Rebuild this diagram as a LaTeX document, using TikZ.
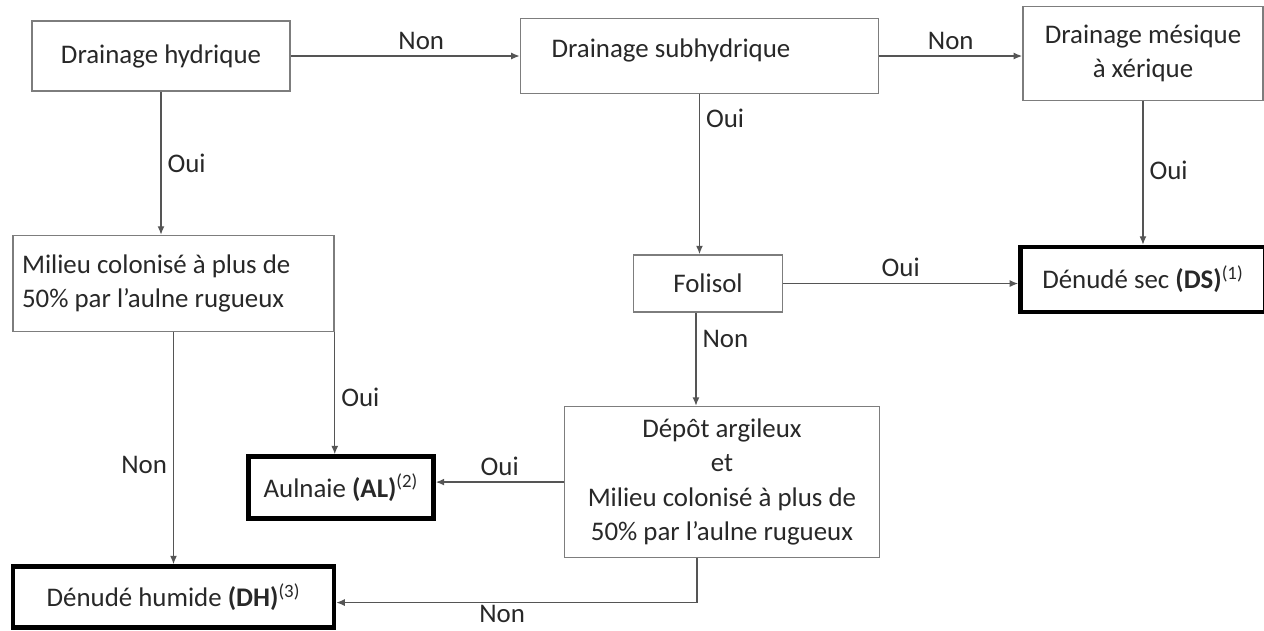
\documentclass[tikz,border=0pt]{standalone}
\usepackage{fontspec}
\setmainfont{Carlito}
\usetikzlibrary{arrows.meta,positioning}
\definecolor{lngray}{RGB}{85,85,85}
\definecolor{boxgray}{RGB}{125,125,125}
\definecolor{txtgray}{RGB}{40,40,40}

\begin{document}
\begin{tikzpicture}[x=0.02cm,y=-0.02cm,>={Latex[length=1.7mm,width=1.4mm]},
    font=\fontsize{15.3}{19.5}\selectfont,text=txtgray,
    box/.style={draw=boxgray,line width=.9pt,inner sep=0pt,align=center},
    leaf/.style={draw=black,line width=2.6pt,inner sep=0pt,align=center},
    link/.style={->,draw=lngray,line width=.8pt}]
  \useasboundingbox (0,0) rectangle (1264,630);
  % top row
  \node[box,minimum width=5.16cm,minimum height=1.4cm] (hyd) at (161,56) {Drainage hydrique};
  \node[box,text width=5.92cm,inner xsep=.62cm,align=flush left,minimum height=1.5cm,right=4.58cm of hyd] (sub) {\raisebox{.32cm}{Drainage subhydrique}};
  \node[box,minimum width=4.8cm,minimum height=1.88cm,right=2.86cm of sub,yshift=.05cm] (mes) {Drainage mésique\\à xérique};
  % middle
  \node[box,text width=6.06cm,inner xsep=.18cm,align=flush left,minimum height=1.92cm,below=2.86cm of hyd,xshift=.25cm] (mil) {Milieu colonisé à plus de\\50\% par l’aulne rugueux};
  \node[box,minimum width=2.98cm,minimum height=1.14cm,below=3.2cm of sub,xshift=.17cm] (fol) {Folisol};
  \node[leaf,minimum width=4.9cm,minimum height=1.3cm,right=4.7cm of fol,yshift=.08cm] (ds) {Dénudé sec \textbf{(DS)}\textsuperscript{(1)}};
  % bottom
  \node[box,minimum width=6.3cm,minimum height=3.02cm,below=1.86cm of fol,xshift=.28cm] (dep) {Dépôt argileux\\et\\Milieu colonisé à plus de\\50\% par l’aulne rugueux};
  \node[leaf,minimum width=3.7cm,minimum height=1.24cm,left=2.56cm of dep,yshift=-.11cm] (al) {Aulnaie \textbf{(AL)}\textsuperscript{(2)}};
  \node[leaf,minimum width=6.42cm,minimum height=1.22cm,below=4.64cm of mil] (dh) {Dénudé humide \textbf{(DH)}\textsuperscript{(3)}};

  \draw[link] (hyd) -- node[above,pos=.57]{Non} (sub);
  \draw[link] (sub.east) -- node[above]{Non} (sub.east -| mes.west);
  \draw[link] (hyd) -- node[right]{Oui} (hyd |- mil.north);
  \draw[link] (sub) -- node[right,pos=.15]{Oui} (sub |- fol.north);
  \draw[link] (mes) -- node[right,pos=.48]{Oui} (mes |- ds.north);
  \draw[link] (fol) -- node[above]{Oui} (fol -| ds.west);
  \draw[link] ([xshift=-.24cm]fol.south) -- node[right,pos=.28]{Non} ([xshift=-.24cm]fol.south |- dep.north);
  \draw[link] (mil.south east) -- node[right,pos=.53]{Oui} (mil.south east |- al.north);
  \draw[link] (mil) -- node[left,pos=.57]{Non} (mil |- dh.north);
  \draw[link] (dep.west) -- node[above]{Oui} (dep.west -| al.east);
  \draw[link] ([xshift=-.5cm]dep.south) |- node[below,pos=.77,inner sep=1pt]{Non} ([yshift=-.11cm]dh.east);
\end{tikzpicture}
\end{document}
